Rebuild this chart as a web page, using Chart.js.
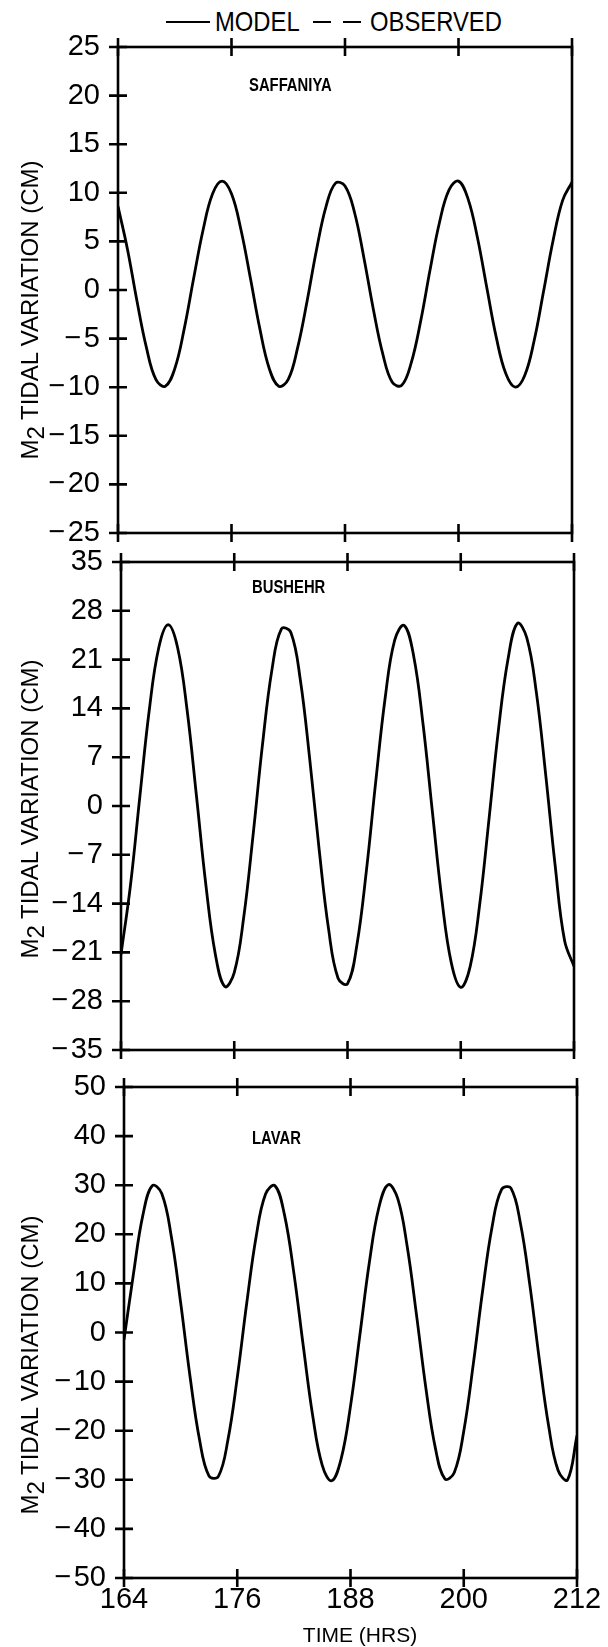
<!DOCTYPE html>
<html lang="en">
<head>
<meta charset="UTF-8">
<title>M2 tidal variation</title>
<style>
  body { margin: 0; background: #fff; }
  #page { position: relative; width: 608px; height: 1647px; font-family: "Liberation Sans", Arial, sans-serif; color: #000; overflow: hidden; }
  #page canvas { position: absolute; left: 0; }
  .ytitle { position: absolute; width: 380px; height: 30px; line-height: 30px; text-align: center; font-size: 24px; white-space: nowrap; transform: rotate(-90deg); }
  .ytitle sub { font-size: 24px; vertical-align: -6px; line-height: 0; }
  .key { position: absolute; font-size: 28px; line-height: 28px; transform: scaleX(0.85); transform-origin: left center; white-space: nowrap; }
  .line { position: absolute; height: 0; border-top: 2.5px solid #000; }
  #xtitle { position: absolute; left: 260px; width: 200px; top: 1623px; text-align: center; font-size: 21px; line-height: 24px; }
</style>
</head>
<body>
<div id="page">
  <!-- legend -->
  <div class="line" style="left:166px; width:44px; top:21px;"></div>
  <div class="key" style="left:215px; top:8px;">MODEL</div>
  <div class="line" style="left:313px; width:18px; top:21px;"></div>
  <div class="line" style="left:343px; width:18px; top:21px;"></div>
  <div class="key" style="left:370px; top:8px;">OBSERVED</div>

  <canvas id="c1" width="608" height="600" style="top:0px"></canvas>
  <canvas id="c2" width="608" height="600" style="top:500px"></canvas>
  <canvas id="c3" width="608" height="617" style="top:1030px"></canvas>

  <div class="ytitle" style="left:-160px; top:295px;">M<sub>2</sub> TIDAL VARIATION (CM)</div>
  <div class="ytitle" style="left:-160px; top:794px;">M<sub>2</sub> TIDAL VARIATION (CM)</div>
  <div class="ytitle" style="left:-160px; top:1350px;">M<sub>2</sub> TIDAL VARIATION (CM)</div>
  <div id="xtitle">TIME (HRS)</div>
</div>

<script src="https://cdn.jsdelivr.net/npm/chart.js@4.4.8/dist/chart.umd.min.js"></script>
<script>
  // hourly model output, 164 to 212 hrs
  const hours = [164, 165, 166, 167, 168, 169, 170, 171, 172, 173, 174, 175, 176, 177, 178, 179, 180,
    181, 182, 183, 184, 185, 186, 187, 188, 189, 190, 191, 192, 193, 194, 195, 196,
    197, 198, 199, 200, 201, 202, 203, 204, 205, 206, 207, 208, 209, 210, 211, 212];

  const saffaniya = [8.6, 4.2, -1.1, -5.9, -9.2, -9.9, -8.1, -4.0, 1.2, 6.2, 9.9, 11.2, 9.9,
    6.2, 1.2, -4.0, -8.1, -9.9, -9.2, -5.9, -1.1, 4.2, 8.6, 11.0, 10.7, 8.0, 3.3,
    -2.0, -6.6, -9.5, -9.8, -7.5, -3.2, 2.1, 7.0, 10.3, 11.2, 9.4, 5.4, 0.2, -4.9,
    -8.6, -10.0, -8.8, -5.2, -0.1, 5.1, 9.2, 11.1];

  const bushehr = [-21.3, -11.4, 1.4, 13.8, 22.7, 26.0, 22.7, 13.8, 1.4, -11.4, -21.3, -25.9, -23.9,
    -16.0, -4.1, 8.9, 19.6, 25.4, 24.9, 18.1, 6.7, -6.3, -17.7, -24.7, -25.5, -19.9, -9.3,
    3.6, 15.6, 23.8, 25.9, 21.6, 11.8, -0.9, -13.4, -22.5, -26.0, -23.0, -14.2, -1.8, 11.0,
    21.0, 26.2, 24.1, 16.4, 4.5, -8.5, -19.3, -23.0];

  const lavar = [-1.5, 11.9, 23.9, 29.9, 28.3, 19.7, 6.1, -9.0, -21.8, -29.2, -29.3, -22.0, -9.2,
    5.9, 19.5, 28.2, 29.9, 24.0, 12.1, -2.8, -17.0, -27.0, -30.2, -25.8, -15.0, -0.4, 14.3,
    25.4, 30.1, 27.3, 17.6, 3.5, -11.5, -23.6, -29.8, -28.5, -20.1, -6.6, 8.5, 21.5, 29.1,
    29.4, 22.3, 9.7, -5.4, -19.1, -28.1, -30.0, -21.0];

  const timeTicks = [164, 176, 188, 200, 212];
  const saffaniyaTicks = [-25, -20, -15, -10, -5, 0, 5, 10, 15, 20, 25];
  const bushehrTicks = [-35, -28, -21, -14, -7, 0, 7, 14, 21, 28, 35];
  const lavarTicks = [-50, -40, -30, -20, -10, 0, 10, 20, 30, 40, 50];

  const FONT = "'Liberation Sans', Arial, sans-serif";

  // box round the plot with "+" ticks crossing the axes, plus the station name
  const framePlugin = {
    id: 'frame',
    afterDraw(chart, args, opts) {
      const { ctx, chartArea: a, scales: { x, y } } = chart;
      ctx.save();
      ctx.strokeStyle = '#000';
      ctx.lineWidth = 2.6;
      ctx.strokeRect(a.left, a.top, a.right - a.left, a.bottom - a.top);
      ctx.beginPath();
      timeTicks.forEach(v => {
        const px = x.getPixelForValue(v);
        ctx.moveTo(px, a.top - 9); ctx.lineTo(px, a.top + 9);
        ctx.moveTo(px, a.bottom - 9); ctx.lineTo(px, a.bottom + 9);
      });
      opts.ticks.forEach(v => {
        const py = y.getPixelForValue(v);
        ctx.moveTo(a.left - 9, py); ctx.lineTo(a.left + 9, py);
      });
      ctx.stroke();
      // station name, slightly condensed
      ctx.fillStyle = '#000';
      ctx.font = 'bold 19px ' + FONT;
      ctx.textBaseline = 'middle';
      ctx.translate(a.left + opts.dx, a.top + opts.dy);
      ctx.scale(0.78, 1);
      ctx.fillText(opts.name, 0, 0);
      ctx.restore();
    }
  };

  function fmt(v) {
    return v < 0 ? '\u2212\u200a' + Math.abs(v) : String(v);
  }

  function makePanel(id, values, ticks, box) {
    const canvas = document.getElementById(id);
    const top = parseInt(canvas.style.top);
    const xHeight = box.showTime ? 40 : 0;
    return new Chart(canvas, {
      type: 'line',
      data: {
        datasets: [{
          label: 'MODEL',
          data: hours.map((h, i) => ({ x: h, y: values[i] })),
          borderColor: '#000',
          borderWidth: 2.8,
          pointRadius: 0,
          tension: 0.4,
          fill: false
        }]
      },
      options: {
        responsive: false,
        animation: false,
        layout: {
          padding: {
            left: 0,
            right: 608 - box.right,
            top: box.top - top,
            bottom: top + canvas.height - box.bottom - xHeight
          }
        },
        plugins: {
          legend: { display: false },
          tooltip: { enabled: false },
          frame: { ticks: ticks, name: box.name, dx: box.dx, dy: box.dy }
        },
        scales: {
          x: {
            type: 'linear',
            min: 164,
            max: 212,
            afterBuildTicks: s => { s.ticks = timeTicks.map(v => ({ value: v })); },
            afterFit: s => { s.height = xHeight; },
            grid: { display: false, drawTicks: false },
            border: { display: false },
            ticks: {
              display: box.showTime,
              autoSkip: false,
              maxRotation: 0,
              padding: 5,
              color: '#000',
              font: { family: FONT, size: 29 }
            }
          },
          y: {
            min: ticks[0],
            max: ticks[ticks.length - 1],
            afterBuildTicks: s => { s.ticks = ticks.map(v => ({ value: v })); },
            afterFit: s => { s.width = box.left; },
            grid: { display: false, drawTicks: false },
            border: { display: false },
            ticks: {
              autoSkip: false,
              padding: 18,
              color: '#000',
              font: { family: FONT, size: 29 },
              callback: v => fmt(v)
            }
          }
        }
      },
      plugins: [framePlugin]
    });
  }

  makePanel('c1', saffaniya, saffaniyaTicks, { left: 118, right: 572, top: 47, bottom: 533, name: 'SAFFANIYA', dx: 131, dy: 39, showTime: false });
  makePanel('c2', bushehr, bushehrTicks, { left: 121, right: 574, top: 562, bottom: 1050, name: 'BUSHEHR', dx: 131, dy: 26, showTime: false });
  makePanel('c3', lavar, lavarTicks, { left: 124, right: 577, top: 1087, bottom: 1578, name: 'LAVAR', dx: 128, dy: 52, showTime: true });
</script>
</body>
</html>
